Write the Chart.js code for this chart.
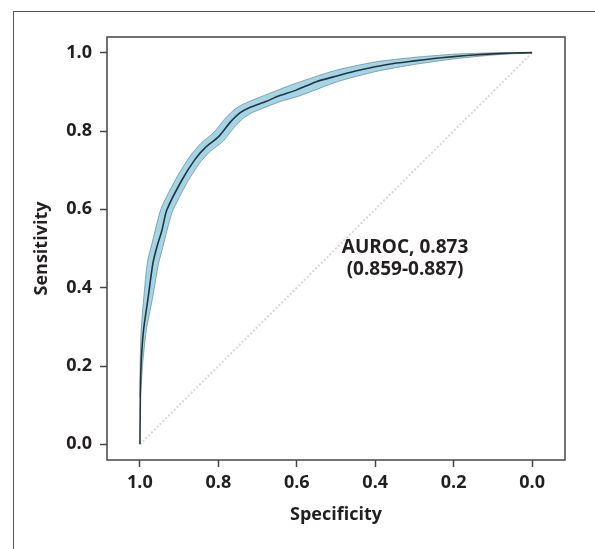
<!DOCTYPE html>
<html>
<head>
<meta charset="utf-8">
<script src="https://cdn.jsdelivr.net/npm/chart.js@4"></script>
<style>
  html, body { margin: 0; padding: 0; background: #fff; }
  #wrap { position: relative; width: 595px; height: 549px; }
  #frame { position: absolute; left: 13px; top: 11px; right: 0; bottom: 0; border-top: 1.5px solid #555; border-left: 1.5px solid #555; }
  canvas { position: absolute; left: 0; top: 0; }
</style>
</head>
<body>
<div id="wrap">
  <div id="frame"></div>
  <canvas id="myChart" width="595" height="549"></canvas>
</div>
<script>
// ROC curve (specificity on x, sensitivity on y)
const curveSpec = [0.00, 0.05, 0.10, 0.15, 0.20, 0.25, 0.30, 0.35, 0.40, 0.45, 0.50, 0.55, 0.60, 0.65, 0.677, 0.72, 0.745, 0.77, 0.80, 0.834, 0.86, 0.894, 0.932, 0.944, 0.955, 0.967, 0.979, 0.991, 0.997, 0.999, 1.00];
const curveSens = [1.000, 0.999, 0.997, 0.994, 0.990, 0.985, 0.979, 0.973, 0.964, 0.953, 0.940, 0.926, 0.905, 0.888, 0.876, 0.860, 0.846, 0.822, 0.785, 0.757, 0.727, 0.673, 0.597, 0.546, 0.510, 0.462, 0.375, 0.290, 0.206, 0.120, 0.000];

// 95% CI band edges
const bandUpperSpec = [0.00, 0.10, 0.20, 0.30, 0.402, 0.504, 0.605, 0.657, 0.729, 0.755, 0.781, 0.811, 0.845, 0.872, 0.907, 0.946, 0.969, 0.981, 0.990, 0.997, 0.9995, 1.000];
const bandUpperSens = [1.000, 0.9995, 0.996, 0.988, 0.976, 0.954, 0.921, 0.901, 0.872, 0.858, 0.834, 0.797, 0.768, 0.736, 0.680, 0.602, 0.514, 0.465, 0.377, 0.290, 0.206, 0.120];
const bandLowerSpec = [0.00, 0.10, 0.20, 0.30, 0.398, 0.496, 0.595, 0.643, 0.711, 0.735, 0.759, 0.789, 0.823, 0.848, 0.881, 0.918, 0.941, 0.953, 0.968, 0.984, 0.993, 0.999];
const bandLowerSens = [1.000, 0.994, 0.984, 0.970, 0.952, 0.926, 0.889, 0.875, 0.848, 0.834, 0.810, 0.773, 0.746, 0.718, 0.666, 0.592, 0.506, 0.459, 0.373, 0.290, 0.206, 0.120];

// chance line
const chanceSpec = [1, 0];
const chanceSens = [0, 1];

const tickValues = [0, 0.2, 0.4, 0.6, 0.8, 1.0];
const aurocLines = ['AUROC, 0.873', '(0.859-0.887)'];
const aurocAt = { spec: 0.324, sens: 0.474 };

const toPoints = (xs, ys) => xs.map((x, i) => ({ x: x, y: ys[i] }));

// band as a closed shape: upper edge out, lower edge back
const bandPoints = toPoints(bandUpperSpec, bandUpperSens)
  .concat(toPoints(bandLowerSpec, bandLowerSens).reverse());

const FONT = '"Open Sans", "DejaVu Sans", sans-serif';
const INK = '#231f20';

const plotBox = {
  id: 'plotBox',
  afterDraw(chart) {
    const { ctx, chartArea: a } = chart;
    ctx.save();
    ctx.strokeStyle = '#444';
    ctx.lineWidth = 1.5;
    ctx.strokeRect(a.left, a.top, a.right - a.left, a.bottom - a.top);

    // AUROC note
    const px = chart.scales.x.getPixelForValue(aurocAt.spec);
    const py = chart.scales.y.getPixelForValue(aurocAt.sens);
    ctx.fillStyle = INK;
    ctx.font = 'bold 19px ' + FONT;
    ctx.textAlign = 'center';
    ctx.textBaseline = 'middle';
    ctx.fillText(aurocLines[0], px, py - 11);
    ctx.fillText(aurocLines[1], px, py + 11);
    ctx.restore();
  }
};

const setTicks = scale => { scale.ticks = tickValues.map(v => ({ value: v })); };

const ctx = document.getElementById('myChart');

let myChart = new Chart(ctx, {
  type: 'scatter',
  data: {
    datasets: [
      {
        label: 'ROC',
        data: toPoints(curveSpec, curveSens),
        showLine: true,
        borderColor: '#26343a',
        borderWidth: 1.6,
        pointRadius: 0,
        tension: 0.2,
        fill: false,
        order: 1
      },
      {
        label: '95% CI',
        data: bandPoints,
        showLine: true,
        borderColor: 'rgba(95,135,150,0.7)',
        borderWidth: 1,
        backgroundColor: '#a4d5e7',
        pointRadius: 0,
        tension: 0.2,
        fill: 'shape',
        order: 2
      },
      {
        label: 'Chance',
        data: toPoints(chanceSpec, chanceSens),
        showLine: true,
        borderColor: 'rgba(200,200,200,0.7)',
        borderWidth: 2,
        borderDash: [2, 2],
        pointRadius: 0,
        fill: false,
        order: 3
      }
    ]
  },
  options: {
    responsive: false,
    animation: false,
    layout: { padding: { top: 37, right: 30, bottom: 0, left: 0 } },
    plugins: { legend: { display: false }, tooltip: { enabled: false } },
    scales: {
      x: {
        type: 'linear',
        reverse: true,
        min: -0.084,
        max: 1.084,
        afterBuildTicks: setTicks,
        afterFit: scale => { scale.height = 89; },
        border: { display: false },
        grid: { drawOnChartArea: false, drawTicks: true, tickLength: 7, tickWidth: 1.5, tickColor: '#444' },
        ticks: {
          padding: 5,
          color: INK,
          font: { family: FONT, size: 18, weight: 'bold' },
          callback: v => v.toFixed(1)
        },
        title: {
          display: true,
          text: 'Specificity',
          color: INK,
          font: { family: FONT, size: 18, weight: 'bold' },
          padding: { top: 0, bottom: 23 }
        }
      },
      y: {
        type: 'linear',
        min: -0.04,
        max: 1.04,
        afterBuildTicks: setTicks,
        afterFit: scale => { scale.width = 107; },
        border: { display: false },
        grid: { drawOnChartArea: false, drawTicks: true, tickLength: 7, tickWidth: 1.5, tickColor: '#444' },
        ticks: {
          padding: 8,
          color: INK,
          font: { family: FONT, size: 18, weight: 'bold' },
          callback: v => v.toFixed(1)
        },
        title: {
          display: true,
          text: 'Sensitivity',
          color: INK,
          font: { family: FONT, size: 18, weight: 'bold' },
          padding: { top: 31, bottom: 0 }
        }
      }
    }
  },
  plugins: [plotBox]
});
</script>
</body>
</html>
